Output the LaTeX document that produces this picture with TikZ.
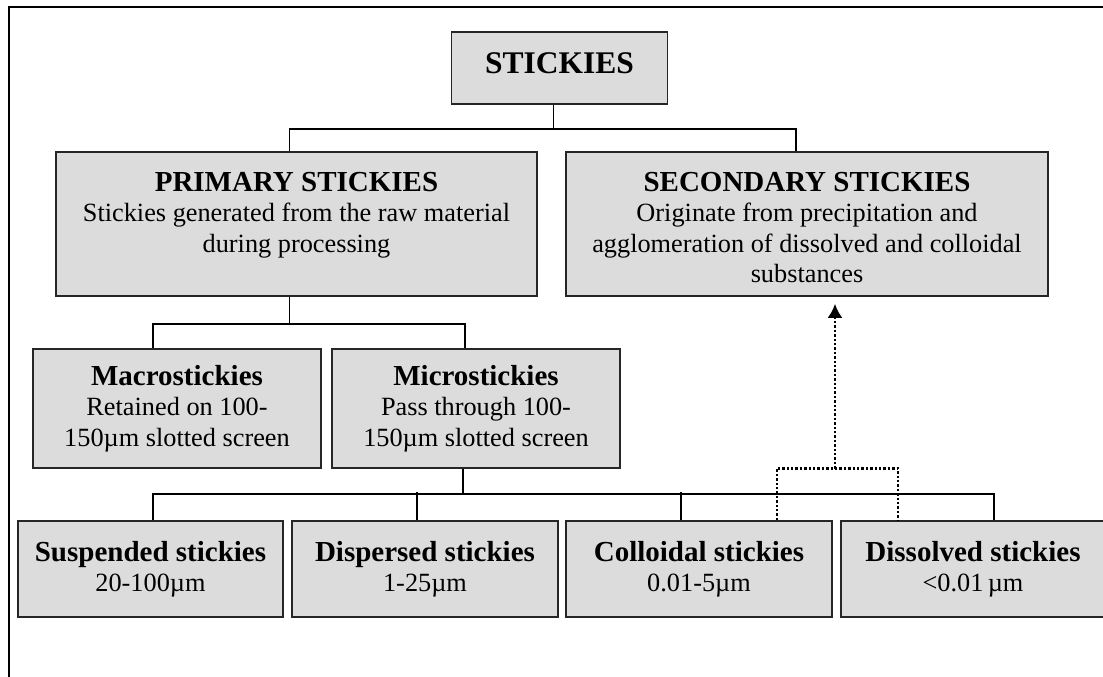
\documentclass[tikz,border=0pt]{standalone}
\usepackage{fontspec}
\setmainfont{Liberation Serif}
\usetikzlibrary{arrows.meta}
\definecolor{boxgray}{RGB}{220,220,220}
\newcommand{\hd}[1]{{\bfseries\fontsize{29}{30.5}\selectfont #1}}

\begin{document}
\begin{tikzpicture}[x=1pt, y=-1pt,
  box/.style={draw=black!85, line width=1.6pt, fill=boxgray, rectangle, inner sep=0pt, align=center, font=\fontsize{26.3}{30.5}\selectfont},
  link/.style={line width=1.5pt},
  dotlink/.style={line width=2.6pt, dash pattern=on 2.4pt off 2pt}]
\useasboundingbox (0,0) rectangle (1103,677);
\clip (0,0) rectangle (1103,677);
% frame
\draw[line width=2.2pt] (9,677) -- (9,7) -- (1103,7);
% level 1
\node[box, font=\bfseries\fontsize{31.5}{36}\selectfont, minimum width=216pt, minimum height=72pt, text depth=9pt] (stickies) at (559.5,68) {STICKIES};
% level 2
\node[box, minimum width=481pt, minimum height=144pt] (primary) at (296.5,224) {\hd{\rule{0pt}{26pt}PRIMARY STICKIES}\\Stickies generated from the raw material\\during processing\\~};
\node[box, minimum width=482pt, minimum height=144pt] (secondary) at (807,224) {\hd{\rule{0pt}{26pt}SECONDARY STICKIES}\\Originate from precipitation and\\agglomeration of dissolved and colloidal\\substances};
% level 3
\node[box, minimum width=288pt, minimum height=119pt] (macro) at (177,408.5) {\hd{Macrostickies}\\Retained on 100-\\150µm slotted screen};
\node[box, minimum width=288pt, minimum height=119pt] (micro) at (476,408.5) {\hd{Microstickies}\\Pass through 100-\\150µm slotted screen};
% level 4
\node[box, minimum width=265pt, minimum height=96pt] (suspended) at (150.5,569) {\hd{Suspended stickies}\\20-100µm};
\node[box, minimum width=266pt, minimum height=96pt] (dispersed) at (425,569) {\hd{Dispersed stickies}\\1-25µm};
\node[box, minimum width=266pt, minimum height=96pt] (colloidal) at (699,569) {\hd{Colloidal stickies}\\0.01-5µm};
\node[box, minimum width=264pt, minimum height=96pt] (dissolved) at (973,569) {\hd{Dissolved stickies}\\<0.01\,µm};
% tree lines
\draw[link] ([xshift=-6pt]stickies.south) -- ++(0,24) coordinate (bus1);
\draw[link] ([xshift=-7pt]primary.north) |- (bus1) -| ([xshift=-11pt]secondary.north);
\draw[link] ([xshift=-7pt]primary.south) -- ++(0,27) coordinate (bus2);
\draw[link] ([xshift=-24pt]macro.north) |- (bus2) -| ([xshift=-11pt]micro.north);
\draw[link] ([xshift=-13pt]micro.south) -- ++(0,25) coordinate (bus3);
\draw[link] ([xshift=2.5pt]suspended.north) |- (bus3) -| ([xshift=21pt]dissolved.north);
\draw[link] ([xshift=-8pt]dispersed.north) -- ++(0,-28);
\draw[link] ([xshift=-18pt]colloidal.north) -- ++(0,-28);
% secondary formation
\draw[dotlink] ([xshift=78pt]colloidal.north) -- ++(0,-52) coordinate (dj) -| ([xshift=-75pt]dissolved.north);
\draw[dotlink, {Latex[length=14pt,width=15pt]}-, shorten <=7pt] ([xshift=28pt]secondary.south) -- ++(0,173);
\end{tikzpicture}
\end{document}
